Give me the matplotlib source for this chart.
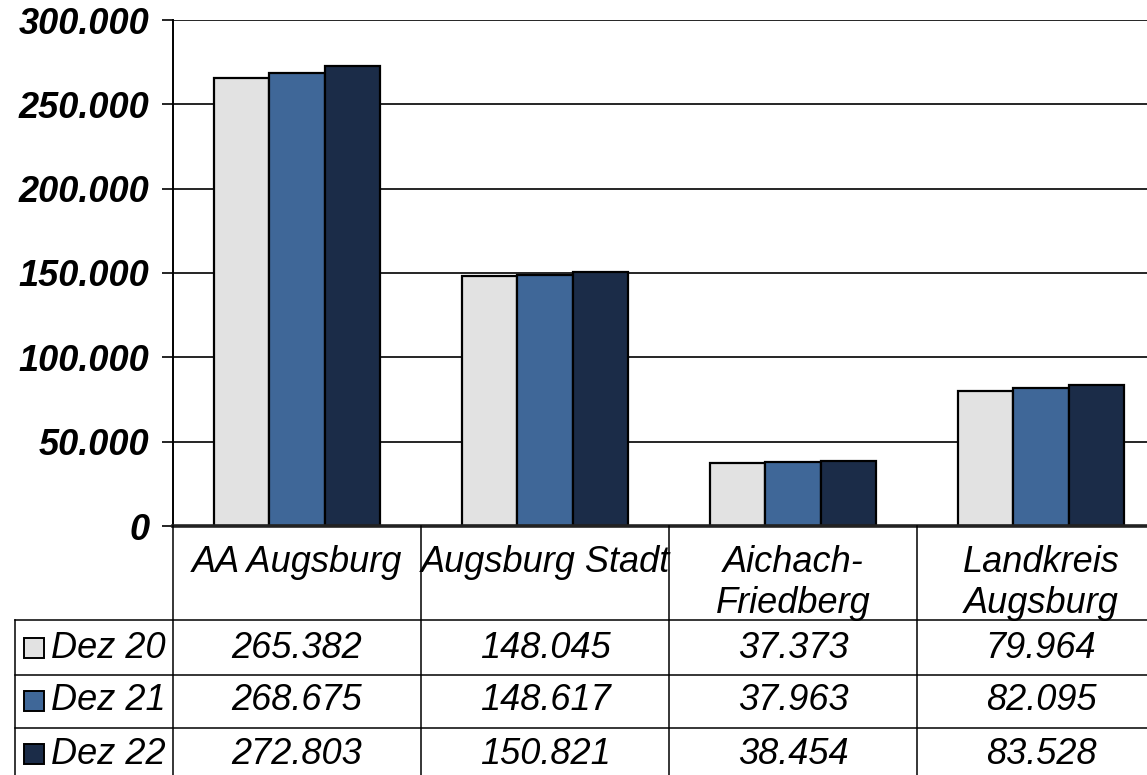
import matplotlib
matplotlib.use('Agg')
import matplotlib.pyplot as plt
import numpy as np
from matplotlib.lines import Line2D
from matplotlib.patches import Rectangle
from matplotlib.ticker import FuncFormatter, MultipleLocator
from matplotlib.transforms import blended_transform_factory

# data
categories = ['AA Augsburg', 'Augsburg Stadt', 'Aichach-\nFriedberg', 'Landkreis\nAugsburg']
series_labels = ['Dez 20', 'Dez 21', 'Dez 22']
dez20 = [265382, 148045, 37373, 79964]
dez21 = [268675, 148617, 37963, 82095]
dez22 = [272803, 150821, 38454, 83528]
colors = ['#e2e2e2', '#3f6798', '#1b2c48']

plt.rcParams['font.family'] = ['Liberation Sans', 'DejaVu Sans']

W, H = 1147, 775
FS = 26


def fx(px):
    return px / W


def fy(py):
    return 1 - py / H


def fmt(v, pos=None):
    return f'{v:,.0f}'.replace(',', '.')


fig = plt.figure(figsize=(W / 100, H / 100), dpi=100, facecolor='white')
ax = fig.add_axes([fx(173), fy(526), (1165 - 173) / W, (526 - 20) / H])

series = [dez20, dez21, dez22]
x = np.arange(len(categories))
bw = 0.222
for i, vals in enumerate(series):
    ax.bar(x + (i - 1) * bw, vals, width=bw, color=colors[i],
           edgecolor='black', linewidth=1.6, zorder=3)

ax.set_xlim(-0.5, len(categories) - 0.5)
ax.set_ylim(0, 300000)
ax.yaxis.set_major_locator(MultipleLocator(50000))
ax.yaxis.set_major_formatter(FuncFormatter(fmt))
ax.grid(axis='y', color='black', lw=1.2, zorder=0)
ax.set_xticks([])
ax.tick_params(axis='y', length=8, width=1.2, pad=9, labelsize=FS)
for lab in ax.get_yticklabels():
    lab.set_fontweight('bold')
    lab.set_fontstyle('italic')
for s in ('top', 'right'):
    ax.spines[s].set_visible(False)
ax.spines['left'].set_linewidth(1.4)
ax.spines['bottom'].set_linewidth(2.6)
ax.spines['bottom'].set_color('#222222')
ax.spines['bottom'].set_zorder(5)

# data table under the axis
bt = blended_transform_factory(ax.transData, fig.transFigure)
lw = 1.1
row_lines = [620, 675, 728]
for py in row_lines:
    fig.add_artist(Line2D([fx(15), 1], [fy(py), fy(py)], color='black', lw=lw))
fig.add_artist(Line2D([fx(15), fx(15)], [fy(620), 0], color='black', lw=lw))
fig.add_artist(Line2D([fx(173), fx(173)], [fy(526), 0], color='black', lw=lw))
for b in x[:-1] + 0.5:
    fig.add_artist(Line2D([b, b], [fy(526), 0], color='black', lw=lw, transform=bt))

for i, cat in enumerate(categories):
    fig.text(i, fy(545), cat, transform=bt, ha='center', va='top',
             fontsize=FS, style='italic', linespacing=1.22)

row_centers = [648, 701, 754]
for r, vals in enumerate(series):
    for i, v in enumerate(vals):
        fig.text(i, fy(row_centers[r]), fmt(v), transform=bt, ha='center',
                 va='center', fontsize=FS, style='italic')
    fig.add_artist(Rectangle((fx(24), fy(row_centers[r] + 10)), 20 / W, 20 / H,
                             facecolor=colors[r], edgecolor='black', lw=1.4,
                             transform=fig.transFigure))
    fig.text(fx(51), fy(row_centers[r]), series_labels[r], ha='left',
             va='center', fontsize=FS, style='italic')

fig.savefig('out.png', dpi=100)
